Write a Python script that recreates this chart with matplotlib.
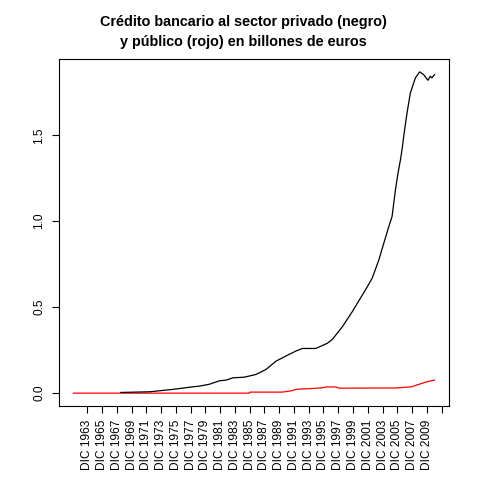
import matplotlib
matplotlib.use('Agg')
import matplotlib.pyplot as plt

plt.rcParams['font.family'] = ['Liberation Sans', 'DejaVu Sans']

# fecha en años decimales (diciembre de 1963 = 1963.917)
privado_t = [1968.46, 1972.38, 1975.52, 1978.22, 1979.13, 1980.47, 1981.83,
             1982.73, 1983.63, 1985.20, 1986.78, 1988.13, 1989.48, 1990.83,
             1992.18, 1993.07, 1994.87, 1996.44, 1997.12, 1998.47, 1999.82,
             2000.63, 2001.60, 2002.51, 2003.42, 2004.09, 2004.77, 2005.21,
             2005.44, 2005.67, 2006.02, 2006.35, 2006.56, 2006.79, 2007.24,
             2007.69, 2008.37, 2008.95, 2009.49, 2010.07, 2010.39, 2010.61,
             2010.97]
privado_v = [0.004, 0.008, 0.022, 0.037, 0.041, 0.052, 0.072,
             0.076, 0.089, 0.093, 0.109, 0.138, 0.186, 0.216,
             0.245, 0.260, 0.260, 0.290, 0.313, 0.386, 0.474,
             0.532, 0.600, 0.668, 0.775, 0.872, 0.969, 1.027,
             1.105, 1.183, 1.280, 1.358, 1.416, 1.494, 1.630,
             1.746, 1.834, 1.869, 1.853, 1.820, 1.843, 1.834,
             1.853]

publico_t = [1962.03, 1985.87, 1985.95, 1990.33, 1991.50, 1992.35, 1994.38,
             1995.73, 1996.30, 1997.60, 1998.02, 2005.71, 2007.90, 2008.55,
             2009.90, 2010.97]
publico_v = [0.0, 0.0, 0.006, 0.006, 0.013, 0.023, 0.027,
             0.031, 0.036, 0.036, 0.029, 0.030, 0.037, 0.047,
             0.066, 0.076]

tick_years = list(range(1963, 2012, 2))
tick_labels = ['DIC %d' % y for y in tick_years[:-1]] + ['']

fig = plt.figure(figsize=(4.8, 4.8), dpi=100)
ax = fig.add_axes([59/480, 1 - 406/480, 390/480, 347/480])

ax.plot(publico_t, publico_v, color='red', linewidth=0.9)
ax.plot(privado_t, privado_v, color='black', linewidth=0.9)

# rango al estilo R (4% de margen)
x0, x1 = min(publico_t), max(publico_t)
dx = (x1 - x0) * 0.04
ax.set_xlim(x0 - dx, x1 + dx)
y1 = max(privado_v)
ax.set_ylim(-y1 * 0.04, y1 * 1.04)

ax.set_xticks([y + 0.917 for y in tick_years])
ax.set_xticklabels(tick_labels, rotation=90, fontsize=8.6)
ax.set_yticks([0.0, 0.5, 1.0, 1.5])
ax.set_yticklabels(['0.0', '0.5', '1.0', '1.5'], rotation=90, va='center', fontsize=8.6)
ax.tick_params(length=5, width=0.8, pad=5)

for s in ax.spines.values():
    s.set_linewidth(0.8)

fig.text(243/480, 1 - 22/480, 'Crédito bancario al sector privado (negro)',
         ha='center', va='center', fontsize=10.4, fontweight='bold')
fig.text(243/480, 1 - 42/480, 'y público (rojo) en billones de euros',
         ha='center', va='center', fontsize=10.4, fontweight='bold')

plt.savefig('out.png', dpi=100)
plt.close()
